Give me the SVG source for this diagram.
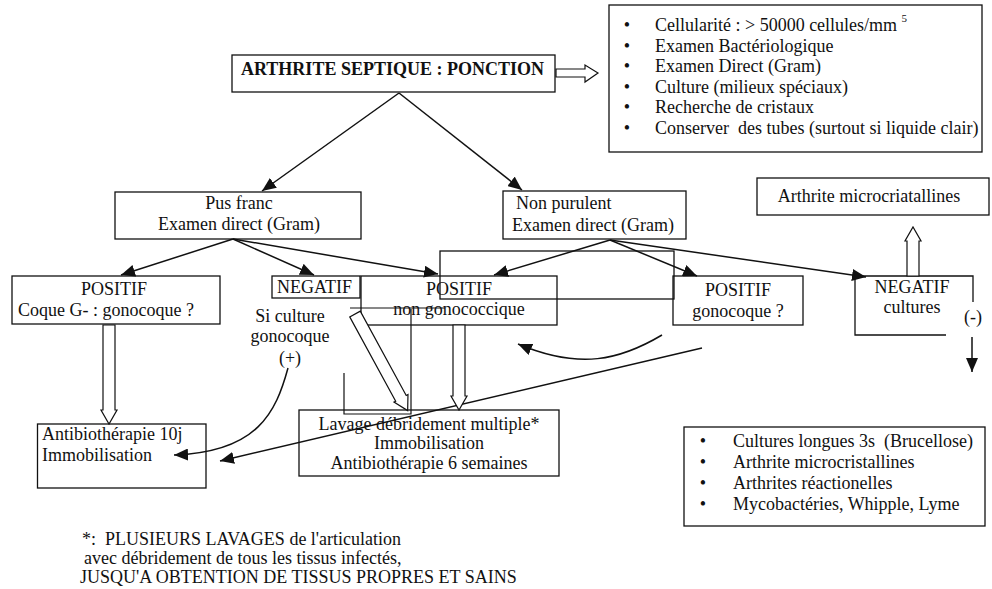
<svg xmlns="http://www.w3.org/2000/svg" width="992" height="589" viewBox="0 0 992 589">
<style>
text{font-family:"Liberation Serif","Times New Roman",serif;font-size:18px;fill:#111}
.b{font-weight:bold}
.m{text-anchor:middle}
.box{fill:none;stroke:#111;stroke-width:1.3}
.ln{fill:none;stroke:#111;stroke-width:1.5}
.hol{fill:#fff;stroke:#111;stroke-width:1.2}
.arr{marker-end:url(#ah)}
</style>
<defs>
<marker id="ah" markerWidth="15" markerHeight="12" refX="14" refY="6" orient="auto" markerUnits="userSpaceOnUse">
<path d="M0,0 L14,6 L0,12 z" fill="#111"/>
</marker>
</defs>
<rect width="992" height="589" fill="#fff"/>

<g id="n-title">
<rect class="box" x="232" y="55" width="323" height="37"/>
<text class="b" x="241" y="75">ARTHRITE SEPTIQUE : PONCTION</text>
</g>

<g id="n-ponction-list">
<rect class="box" x="609" y="5" width="373" height="147"/>
<text x="627" y="31" class="m">•</text><text x="655" y="31">Cellularité : &gt; 50000 cellules/mm <tspan font-size="11" dy="-9">5</tspan></text>
<text x="627" y="52" class="m">•</text><text x="655" y="52">Examen Bactériologique</text>
<text x="627" y="72" class="m">•</text><text x="655" y="72">Examen Direct (Gram)</text>
<text x="627" y="93" class="m">•</text><text x="655" y="93">Culture (milieux spéciaux)</text>
<text x="627" y="113" class="m">•</text><text x="655" y="113">Recherche de cristaux</text>
<text x="627" y="134" class="m">•</text><text x="655" y="134" xml:space="preserve">Conserver  des tubes (surtout si liquide clair)</text>
</g>

<g id="n-pus-franc">
<rect class="box" x="115" y="192" width="246" height="47"/>
<text class="m" x="239" y="209">Pus franc</text>
<text class="m" x="239" y="230">Examen direct (Gram)</text>
</g>

<g id="n-non-purulent">
<rect class="box" x="503" y="191" width="183" height="48"/>
<text x="516" y="209">Non purulent</text>
<text x="512" y="231">Examen direct (Gram)</text>
</g>

<g id="n-positif-coque">
<rect class="box" x="12" y="276" width="208" height="48"/>
<text class="m" x="114" y="295">POSITIF</text>
<text x="18" y="316">Coque G- : gonocoque ?</text>
</g>

<g id="n-negatif">
<rect class="box" x="272" y="276" width="88" height="22"/>
<text x="277" y="293">NEGATIF</text>
</g>

<g id="n-si-culture">
<text class="m" x="290" y="322">Si culture</text>
<text class="m" x="290" y="342">gonocoque</text>
<text class="m" x="290" y="364">(+)</text>
</g>

<g id="n-frame">
<rect class="box" x="440" y="251" width="234" height="48"/>
</g>

<g id="n-positif-non-gono">
<rect class="box" x="361" y="276" width="196" height="49"/>
<text class="m" x="459" y="295">POSITIF</text>
<text class="m" x="459" y="315">non gonococcique</text>
</g>

<g id="n-positif-gono">
<rect class="box" x="673" y="276" width="130" height="49"/>
<text class="m" x="738" y="296">POSITIF</text>
<text class="m" x="738" y="317">gonocoque ?</text>
</g>

<g id="n-negatif-cultures">
<path class="box" d="M973,302 V276 H855 V335 H946"/>
<text class="m" x="912" y="293">NEGATIF</text>
<text class="m" x="912" y="313">cultures</text>
<text class="m" x="973" y="323">(-)</text>
</g>

<g id="n-arthrite-micro">
<rect class="box" x="757" y="178" width="232" height="37"/>
<text class="m" x="869" y="202">Arthrite microcriatallines</text>
</g>

<g id="n-antibio">
<rect class="box" x="37.5" y="424" width="168.5" height="64"/>
<text x="42" y="440">Antibiothérapie 10j</text>
<text x="42" y="461">Immobilisation</text>
</g>

<g id="n-lavage">
<rect class="box" x="299" y="410" width="260" height="66"/>
<text class="m" x="429" y="430">Lavage débridement multiple*</text>
<text class="m" x="429" y="449">Immobilisation</text>
<text class="m" x="429" y="469">Antibiothérapie 6 semaines</text>
</g>

<g id="n-diagnostics">
<rect class="box" x="684" y="427" width="301" height="99"/>
<text x="703" y="447" class="m">•</text><text x="733" y="447" xml:space="preserve">Cultures longues 3s  (Brucellose)</text>
<text x="703" y="468" class="m">•</text><text x="733" y="468">Arthrite microcristallines</text>
<text x="703" y="489" class="m">•</text><text x="733" y="489">Arthrites réactionelles</text>
<text x="703" y="510" class="m">•</text><text x="733" y="510">Mycobactéries, Whipple, Lyme</text>
</g>

<g id="n-footnote">
<text x="82" y="545" xml:space="preserve">*:  PLUSIEURS LAVAGES de l'articulation</text>
<text x="84" y="564">avec débridement de tous les tissus infectés,</text>
<text x="80" y="583">JUSQU'A OBTENTION DE TISSUS PROPRES ET SAINS</text>
</g>

<g id="connectors">
<path class="ln arr" d="M399,93 L262,191"/>
<path class="ln arr" d="M399,93 L522,190"/>
<path class="ln arr" d="M233,239 L121,275"/>
<path class="ln arr" d="M233,239 L314,275"/>
<path class="ln arr" d="M233,239 L438,274"/>
<path class="ln arr" d="M610,240 L494,275"/>
<path class="ln arr" d="M610,240 L697,276"/>
<path class="ln arr" d="M610,240 L866,277"/>
<path class="ln arr" d="M288,368 C276,412 258,452 174,455"/>
<path class="ln arr" d="M702,348 L220,461"/>
<path class="ln arr" d="M662,335 C620,360 580,370 518,344"/>
<path class="ln arr" d="M972,337 L972,372"/>
<path class="ln" style="stroke-width:1.2" d="M411,309 V414 H344 V373"/>
<path class="ln" style="stroke-width:1" d="M350,308 H445"/>
<path class="hol" d="M556,69 H585 V65 L598,73 L585,82 V77 H556 Z"/>
<path class="hol" d="M103,325 V410 H101 L109,424 L117,410 H115 V325 Z"/>
<path class="hol" d="M453,325 V396 H451 L459,410 L467,396 H465 V325 Z"/>
<path class="hol" d="M907,276 V241 H905 L913,227 L921,241 H919 V276 Z"/>
<path class="hol" transform="translate(355,314) rotate(-28.6)" d="M-6,0 V96 H-8 L0,110 L8,96 H6 V0 Z"/>
</g>
</svg>
